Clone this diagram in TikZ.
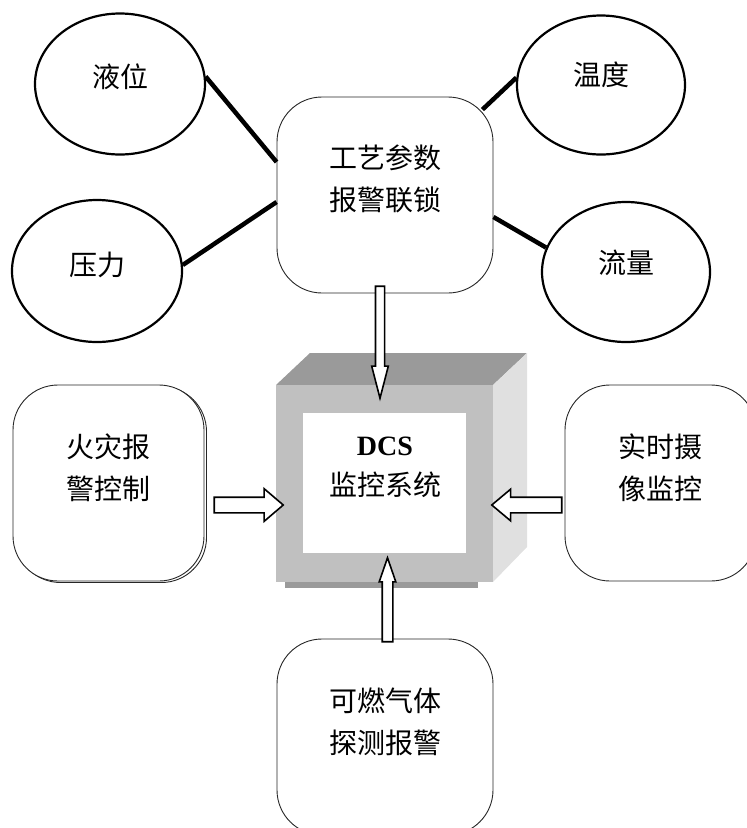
\documentclass[tikz,border=0pt]{standalone}
\usepackage{fontspec}
\usepackage{xcolor}
\usepackage{tikz}
\usetikzlibrary{shapes.geometric,shapes.arrows}
\setmainfont{Liberation Serif}
\newfontfamily\cjk{Noto Sans CJK SC}

\definecolor{cubetop}{HTML}{9A9A9A}
\definecolor{cubefront}{HTML}{C0C0C0}
\definecolor{cubeside}{HTML}{E0E0E0}

\tikzset{
  bubble/.style = {ellipse, draw, line width = 2.2pt, fill = white, inner sep = 0pt},
  roundbox/.style = {rectangle, rounded corners = 45pt, draw = black!85, line width = 0.9pt,
    fill = white, minimum height = 196pt, inner sep = 0pt},
  txt/.style = {font = \cjk\fontsize{28}{42}\selectfont, align = center, inner sep = 0pt},
  link/.style = {line width = 4.5pt},
  harrow/.style = {single arrow, draw, fill = white, line width = 1.6pt, inner sep = 0pt,
    text width = 0pt, text depth = 0pt}
}

\begin{document}
\begin{tikzpicture}[x = 1pt, y = -1pt]

    \useasboundingbox (0,0) rectangle (747,828);
    \clip (0,0) rectangle (747,828);

    % DCS cube
    \fill[cubetop] (285,582) rectangle (478,588);
    \fill[cubetop] (276,385) -- (310,353) -- (527,353) -- (493,385) -- cycle;
    \fill[cubeside] (493,385) -- (527,353) -- (527,547) -- (493,582) -- cycle;
    \fill[cubefront] (276,385) rectangle (493,582);
    \fill[white] (303,413) rectangle (466,553);
    \node[align = center, inner sep = 0pt, font = \fontsize{28}{40}\selectfont] (dcs) at (385,467)
      {\textbf{DCS}\\{\cjk 监控系统}};

    % process parameters
    \node[roundbox, minimum width = 216pt] (gongyi) at (385,195) {};
    \node[txt] (gongyi-t) at ([yshift = 16pt]gongyi.center) {工艺参数\\报警联锁};

    \node[bubble, minimum width = 170pt, minimum height = 141pt] (yewei) at (120,84) {};
    \node[bubble, minimum width = 170pt, minimum height = 142pt] (yali) at (97,271) {};
    \node[bubble, minimum width = 168pt, minimum height = 139pt] (wendu) at (601,85) {};
    \node[bubble, minimum width = 168pt, minimum height = 140pt] (liuliang) at (626,272) {};

    \node[txt] (yewei-t) at ([yshift = 7pt]yewei.center) {液位};
    \node[txt] (yali-t) at ([yshift = 6pt]yali.center) {压力};
    \node[txt] (wendu-t) at ([yshift = 10pt]wendu.center) {温度};
    \node[txt] (liuliang-t) at ([yshift = 9pt]liuliang.center) {流量};

    \draw[link] (yewei.5) -- ([yshift = 33pt]gongyi.west);
    \draw[link] (yali.4) -- ([yshift = -7pt]gongyi.west);
    \draw[link] (wendu.175) -- ([xshift = -11pt, yshift = -13pt]gongyi.north east);
    \draw[link] (liuliang.163) -- ([yshift = -22pt]gongyi.east);

    % side boxes
    \draw[rounded corners = 45pt, draw = black!85, line width = 0.9pt]
      (15.5,386.5) rectangle (206.5,582.5);
    \node[roundbox, minimum width = 191pt] (huozai) at (108.5,483) {};
    \node[txt] (huozai-t) at ([yshift = 15.5pt]huozai.center) {火灾报\\警控制};

    \node[roundbox, minimum width = 191pt] (shexiang) at (660.5,483) {};
    \node[txt] (shexiang-t) at ([yshift = 15pt]shexiang.center) {实时摄\\像监控};

    \node[roundbox, minimum width = 216pt] (keran) at (385,737) {};
    \node[txt] (keran-t) at ([yshift = 15pt]keran.center) {可燃气体\\探测报警};

    % hollow arrows
    \node[harrow, rotate = -90, anchor = tail, minimum height = 112pt, text height = 7.5pt,
      single arrow head extend = 3.75pt, single arrow tip angle = 29]
      (arr-top) at ([xshift = -5pt, yshift = 8pt]gongyi.south) {};
    \node[harrow, anchor = tail, minimum height = 69pt, text height = 14pt,
      single arrow head extend = 8.5pt, single arrow tip angle = 81]
      (arr-left) at ([xshift = 9pt, yshift = -22pt]huozai.east) {};
    \node[harrow, rotate = 180, anchor = tail, minimum height = 70pt, text height = 14pt,
      single arrow head extend = 8pt, single arrow tip angle = 80]
      (arr-right) at ([xshift = -2pt, yshift = -22pt]shexiang.west) {};
    \node[harrow, rotate = 90, anchor = tail, minimum height = 84pt, text height = 9pt,
      single arrow head extend = 3pt, single arrow tip angle = 38]
      (arr-bottom) at ([xshift = 2.5pt, yshift = -4pt]keran.north) {};

\end{tikzpicture}
\end{document}
